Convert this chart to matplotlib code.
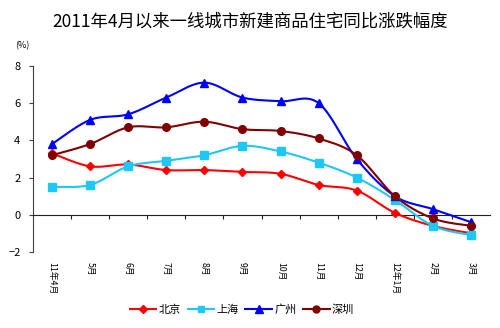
import numpy as np
import matplotlib
matplotlib.use("Agg")
import matplotlib.pyplot as plt

plt.rcParams['font.family'] = ['Noto Sans CJK SC', 'DejaVu Sans']

months = ["11年4月", "5月", "6月", "7月", "8月", "9月", "10月", "11月", "12月", "12年1月", "2月", "3月"]
beijing = [3.3, 2.6, 2.7, 2.4, 2.4, 2.3, 2.2, 1.6, 1.3, 0.1, -0.6, -1.0]
shanghai = [1.5, 1.6, 2.6, 2.9, 3.2, 3.7, 3.4, 2.8, 2.0, 0.8, -0.6, -1.1]
guangzhou = [3.8, 5.1, 5.4, 6.3, 7.1, 6.3, 6.1, 6.0, 3.0, 1.0, 0.3, -0.4]
shenzhen = [3.2, 3.8, 4.7, 4.7, 5.0, 4.6, 4.5, 4.1, 3.2, 1.0, -0.2, -0.6]
series_names = ["北京", "上海", "广州", "深圳"]
title = "2011年4月以来一线城市新建商品住宅同比涨跌幅度"


def smooth(xs, ys, n=20):
    xs = np.asarray(xs, float)
    ys = np.asarray(ys, float)
    px, py = [], []
    m = len(xs)
    for i in range(m - 1):
        i0 = max(i - 1, 0)
        i3 = min(i + 2, m - 1)
        p0 = np.array([xs[i], ys[i]])
        p3 = np.array([xs[i + 1], ys[i + 1]])
        p1 = p0 + (np.array([xs[i + 1], ys[i + 1]]) - np.array([xs[i0], ys[i0]])) / 6
        p2 = p3 - (np.array([xs[i3], ys[i3]]) - np.array([xs[i], ys[i]])) / 6
        t = np.linspace(0, 1, n)[:, None]
        pts = ((1 - t) ** 3) * p0 + 3 * ((1 - t) ** 2) * t * p1 + 3 * (1 - t) * t ** 2 * p2 + t ** 3 * p3
        px.extend(pts[:, 0]); py.extend(pts[:, 1])
    return px, py


fig = plt.figure(figsize=(5, 3.28), dpi=100)
ax = fig.add_axes([0.066, 0.232, 0.914, 0.567])

x = np.arange(len(months))
styles = [
    (beijing, "#FF0000", "D", 4.5),
    (shanghai, "#1EC8F5", "s", 5.5),
    (guangzhou, "#0000FF", "^", 6),
    (shenzhen, "#800000", "o", 5.5),
]
handles = []
for (vals, c, mk, ms), name in zip(styles, series_names):
    sx, sy = smooth(x, vals)
    ax.plot(sx, sy, color=c, lw=1.5, zorder=3)
    ax.plot(x, vals, linestyle='none', marker=mk, color=c, ms=ms, zorder=4)
    h, = ax.plot([], [], color=c, lw=1.5, marker=mk, ms=ms - 0.5)
    handles.append(h)

ax.set_xlim(-0.5, len(months) - 0.5)
ax.set_ylim(-2, 8)
ax.set_yticks([-2, 0, 2, 4, 6, 8])
ax.tick_params(axis='y', labelsize=8, length=3, pad=6, color='#404040')
for s in ['top', 'right']:
    ax.spines[s].set_visible(False)
ax.spines['left'].set_color('#404040')
ax.spines['bottom'].set_position(('data', 0))
ax.spines['bottom'].set_color('#202020')
ax.set_xticks(np.arange(0.5, len(months) - 0.5, 1))
ax.tick_params(axis='x', labelbottom=False, length=3, direction='out', color='#202020')

sec = ax.secondary_xaxis(0)
sec.set_xticks(x)
sec.set_xticklabels(months, rotation=-90, fontsize=6.3, va='top')
sec.tick_params(length=0, pad=7)
sec.spines['bottom'].set_visible(False)

fig.text(0.5, 0.935, title, ha='center', va='center', fontsize=12.5)
fig.text(0.03, 0.86, "(%)", ha='left', va='center', fontsize=6.5)

fig.legend(handles, series_names, loc='center', bbox_to_anchor=(0.484, 0.055), ncol=4,
           frameon=False, fontsize=8, handlelength=2.4, handletextpad=0.2,
           columnspacing=0.6)

fig.savefig("out.png", dpi=100)
